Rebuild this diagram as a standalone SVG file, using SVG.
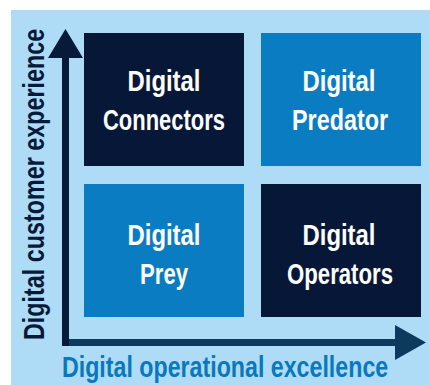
<svg xmlns="http://www.w3.org/2000/svg" width="430" height="385" viewBox="0 0 430 385">
<style>
.lbl{font-family:"Liberation Sans",Arial,sans-serif;font-weight:bold;font-size:29px;fill:#ffffff;text-anchor:middle}
.axis{font-family:"Liberation Sans",Arial,sans-serif;font-weight:bold;font-size:29px}
.dark{fill:#061737}
.blue{fill:#0a7cc1}
</style>
<rect x="0" y="0" width="430" height="385" fill="#ffffff"/>
<rect x="11" y="10" width="419" height="375" fill="#aedcf6"/>
<g id="connectors">
<rect x="69" y="339" width="328" height="7" fill="#0b3a5c"/>
<polygon points="395,325 426,342.5 395,360" fill="#0b3a5c"/>
<rect x="62" y="56" width="7" height="290" fill="#071a3a"/>
<polygon points="48,58 65.5,29 83,58" fill="#071a3a"/>
</g>
<g id="digital-connectors">
<rect class="dark" x="84" y="33" width="160" height="133"/>
<text class="lbl" x="164" y="91" textLength="73" lengthAdjust="spacingAndGlyphs">Digital</text>
<text class="lbl" x="164" y="130" textLength="122" lengthAdjust="spacingAndGlyphs">Connectors</text>
</g>
<g id="digital-predator">
<rect class="blue" x="261" y="33" width="160" height="133"/>
<text class="lbl" x="339" y="91" textLength="73" lengthAdjust="spacingAndGlyphs">Digital</text>
<text class="lbl" x="340" y="130" textLength="96" lengthAdjust="spacingAndGlyphs">Predator</text>
</g>
<g id="digital-prey">
<rect class="blue" x="84" y="184" width="160" height="133"/>
<text class="lbl" x="164" y="245" textLength="73" lengthAdjust="spacingAndGlyphs">Digital</text>
<text class="lbl" x="164" y="284" textLength="48" lengthAdjust="spacingAndGlyphs">Prey</text>
</g>
<g id="digital-operators">
<rect class="dark" x="261" y="184" width="160" height="133"/>
<text class="lbl" x="339" y="245" textLength="73" lengthAdjust="spacingAndGlyphs">Digital</text>
<text class="lbl" x="340" y="284" textLength="106" lengthAdjust="spacingAndGlyphs">Operators</text>
</g>
<g id="axis-labels">
<text class="axis" transform="translate(62,377) scale(0.83,1)" x="0" y="0" fill="#0a78bf" textLength="393" lengthAdjust="spacingAndGlyphs">Digital operational excellence</text>
<text class="axis" transform="translate(44,340) rotate(-90) scale(0.83,1)" x="0" y="0" fill="#071a3a" textLength="375" lengthAdjust="spacingAndGlyphs">Digital customer experience</text>
</g>
</svg>
